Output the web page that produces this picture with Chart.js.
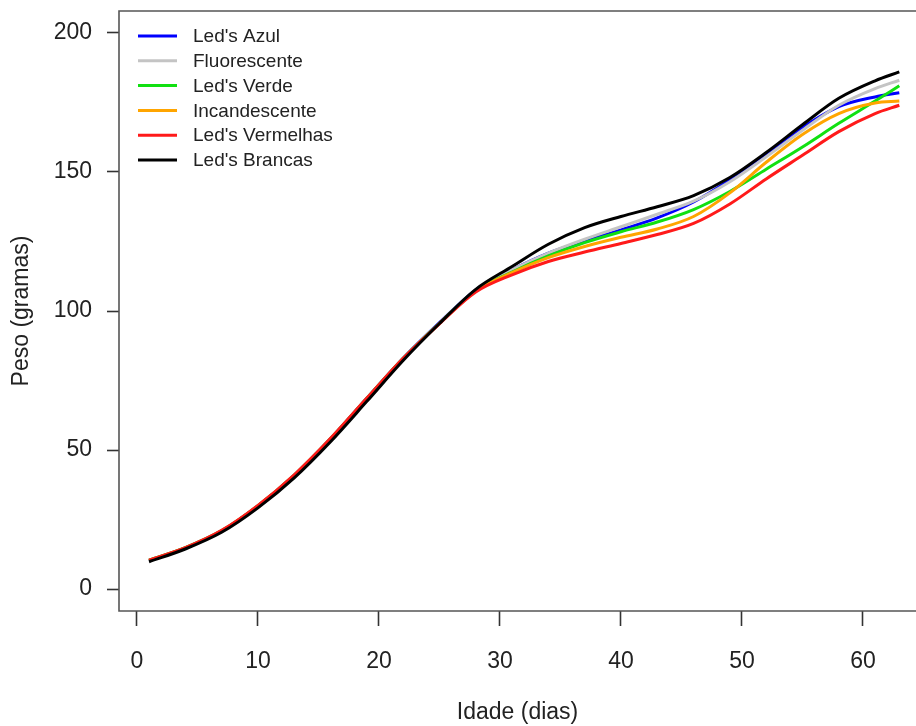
<!DOCTYPE html>
<html><head><meta charset="utf-8">
<script src="https://cdn.jsdelivr.net/npm/chart.js@4"></script>
<style>html,body{margin:0;padding:0;background:#fff;overflow:hidden}#wrap{width:916px;height:726px;position:relative}</style>
</head><body><div id="wrap"><canvas id="c"></canvas></div>
<script>
const days = [1, 4, 7, 10, 13, 16, 19, 22, 25, 28, 31, 34, 37, 40, 43, 46, 49, 52, 55, 58, 61, 63];
const ledAzul       = [10.3, 14.8, 20.9, 29.9, 40.9, 54.0, 68.6, 83.0, 95.8, 107.6, 114.8, 120.8, 125.2, 129.2, 133.5, 139.2, 147.2, 156.5, 166.0, 173.5, 177.0, 178.5];
const fluorescente  = [10.3, 14.8, 20.9, 29.8, 40.8, 53.9, 68.4, 82.9, 95.6, 107.6, 114.8, 120.8, 125.8, 130.3, 134.8, 139.5, 146.5, 155.5, 165.0, 174.0, 180.0, 183.0];
const ledVerde      = [10.4, 14.9, 21.0, 30.0, 41.0, 54.1, 68.6, 83.0, 95.6, 107.3, 114.0, 119.8, 124.6, 128.5, 132.0, 136.5, 143.0, 151.0, 159.0, 167.5, 175.5, 181.0];
const incandescente = [10.3, 14.8, 20.9, 29.9, 40.8, 53.9, 68.4, 82.8, 95.5, 107.2, 113.8, 119.2, 123.2, 126.5, 129.5, 134.0, 142.5, 153.5, 163.5, 171.0, 174.8, 175.5];
const ledVermelhas  = [10.4, 14.9, 21.1, 30.1, 41.1, 54.2, 68.7, 83.0, 95.4, 106.8, 113.0, 117.8, 121.2, 124.3, 127.5, 131.5, 138.5, 147.5, 156.0, 164.5, 171.0, 174.0];
const ledBrancas    = [9.8, 14.4, 20.4, 29.2, 40.0, 53.0, 67.5, 82.2, 95.5, 107.8, 116.0, 124.0, 130.0, 134.0, 137.5, 141.5, 148.0, 157.0, 167.0, 176.5, 182.8, 186.0];

const seriesNames  = ["Led's Azul", "Fluorescente", "Led's Verde", "Incandescente", "Led's Vermelhas", "Led's Brancas"];
const seriesValues = [ledAzul, fluorescente, ledVerde, incandescente, ledVermelhas, ledBrancas];
const seriesColors = ['#0000ff', '#c4c4c4', '#11e011', '#ffa500', '#ff1a1a', '#000000'];

const xTicks = [0, 10, 20, 30, 40, 50, 60];
const yTicks = [0, 50, 100, 150, 200];
const xTitle = 'Idade (dias)';
const yTitle = 'Peso (gramas)';

const FONT = "'Liberation Sans', Arial, Helvetica, sans-serif";

const datasets = seriesNames.map((name, i) => ({
  label: name,
  data: days.map((d, j) => ({x: d, y: seriesValues[i][j]})),
  borderColor: seriesColors[i],
  backgroundColor: seriesColors[i],
  borderWidth: 3,
  pointRadius: 0,
  fill: false,
  cubicInterpolationMode: 'monotone',
  order: seriesNames.length - i
}));

const boxPlugin = {
  id: 'rbox',
  afterDraw(chart) {
    const {ctx, chartArea: a} = chart;
    ctx.save();
    ctx.strokeStyle = '#555';
    ctx.lineWidth = 1.6;
    ctx.beginPath();
    ctx.moveTo(a.right + 5, a.top);
    ctx.lineTo(a.left, a.top);
    ctx.lineTo(a.left, a.bottom);
    ctx.lineTo(a.right + 5, a.bottom);
    ctx.stroke();
    ctx.restore();
  }
};

const legendPlugin = {
  id: 'rlegend',
  afterDraw(chart) {
    const ctx = chart.ctx;
    ctx.save();
    ctx.font = '19px ' + FONT;
    ctx.textBaseline = 'middle';
    ctx.textAlign = 'left';
    chart.data.datasets.forEach((ds, i) => {
      const y = 36 + i * 24.8;
      ctx.strokeStyle = ds.borderColor;
      ctx.lineWidth = 3;
      ctx.beginPath();
      ctx.moveTo(138, y);
      ctx.lineTo(177, y);
      ctx.stroke();
      ctx.fillStyle = '#222';
      ctx.fillText(ds.label, 193, y + 1);
    });
    ctx.restore();
  }
};

function zeroPad(s) { s.paddingTop = 0; s.paddingBottom = 0; s.paddingLeft = 0; s.paddingRight = 0; }

new Chart(document.getElementById('c'), {
  type: 'line',
  data: {datasets},
  options: {
    responsive: true,
    maintainAspectRatio: false,
    animation: false,
    devicePixelRatio: 1,
    layout: {padding: {top: 11, left: 0, right: 0, bottom: 0}},
    plugins: {legend: {display: false}, tooltip: {enabled: false}},
    scales: {
      x: {
        type: 'linear',
        min: -1.48,
        max: 64.38,
        afterBuildTicks(axis) { axis.ticks = xTicks.map(v => ({value: v})); },
        afterFit(s) { s.height = 115; zeroPad(s); },
        ticks: {font: {size: 23, family: FONT}, color: '#222', padding: 22, maxRotation: 0, autoSkip: false},
        grid: {display: true, drawOnChartArea: false, drawTicks: true, tickLength: 15, tickColor: '#333', tickWidth: 1.6},
        border: {display: false},
        title: {display: true, text: xTitle, font: {size: 23, family: FONT}, color: '#222', padding: {top: 0, bottom: 0}}
      },
      y: {
        type: 'linear',
        min: -7.9,
        max: 207.9,
        afterBuildTicks(axis) { axis.ticks = yTicks.map(v => ({value: v})); },
        afterFit(s) { s.width = 119; zeroPad(s); },
        ticks: {font: {size: 23, family: FONT}, color: '#222', padding: 15, autoSkip: false},
        grid: {display: true, drawOnChartArea: false, drawTicks: true, tickLength: 12, tickColor: '#333', tickWidth: 1.6},
        border: {display: false},
        title: {display: true, text: yTitle, font: {size: 23, family: FONT}, color: '#222', padding: {top: 8, bottom: 0}}
      }
    }
  },
  plugins: [boxPlugin, legendPlugin]
});
</script>
</body></html>
